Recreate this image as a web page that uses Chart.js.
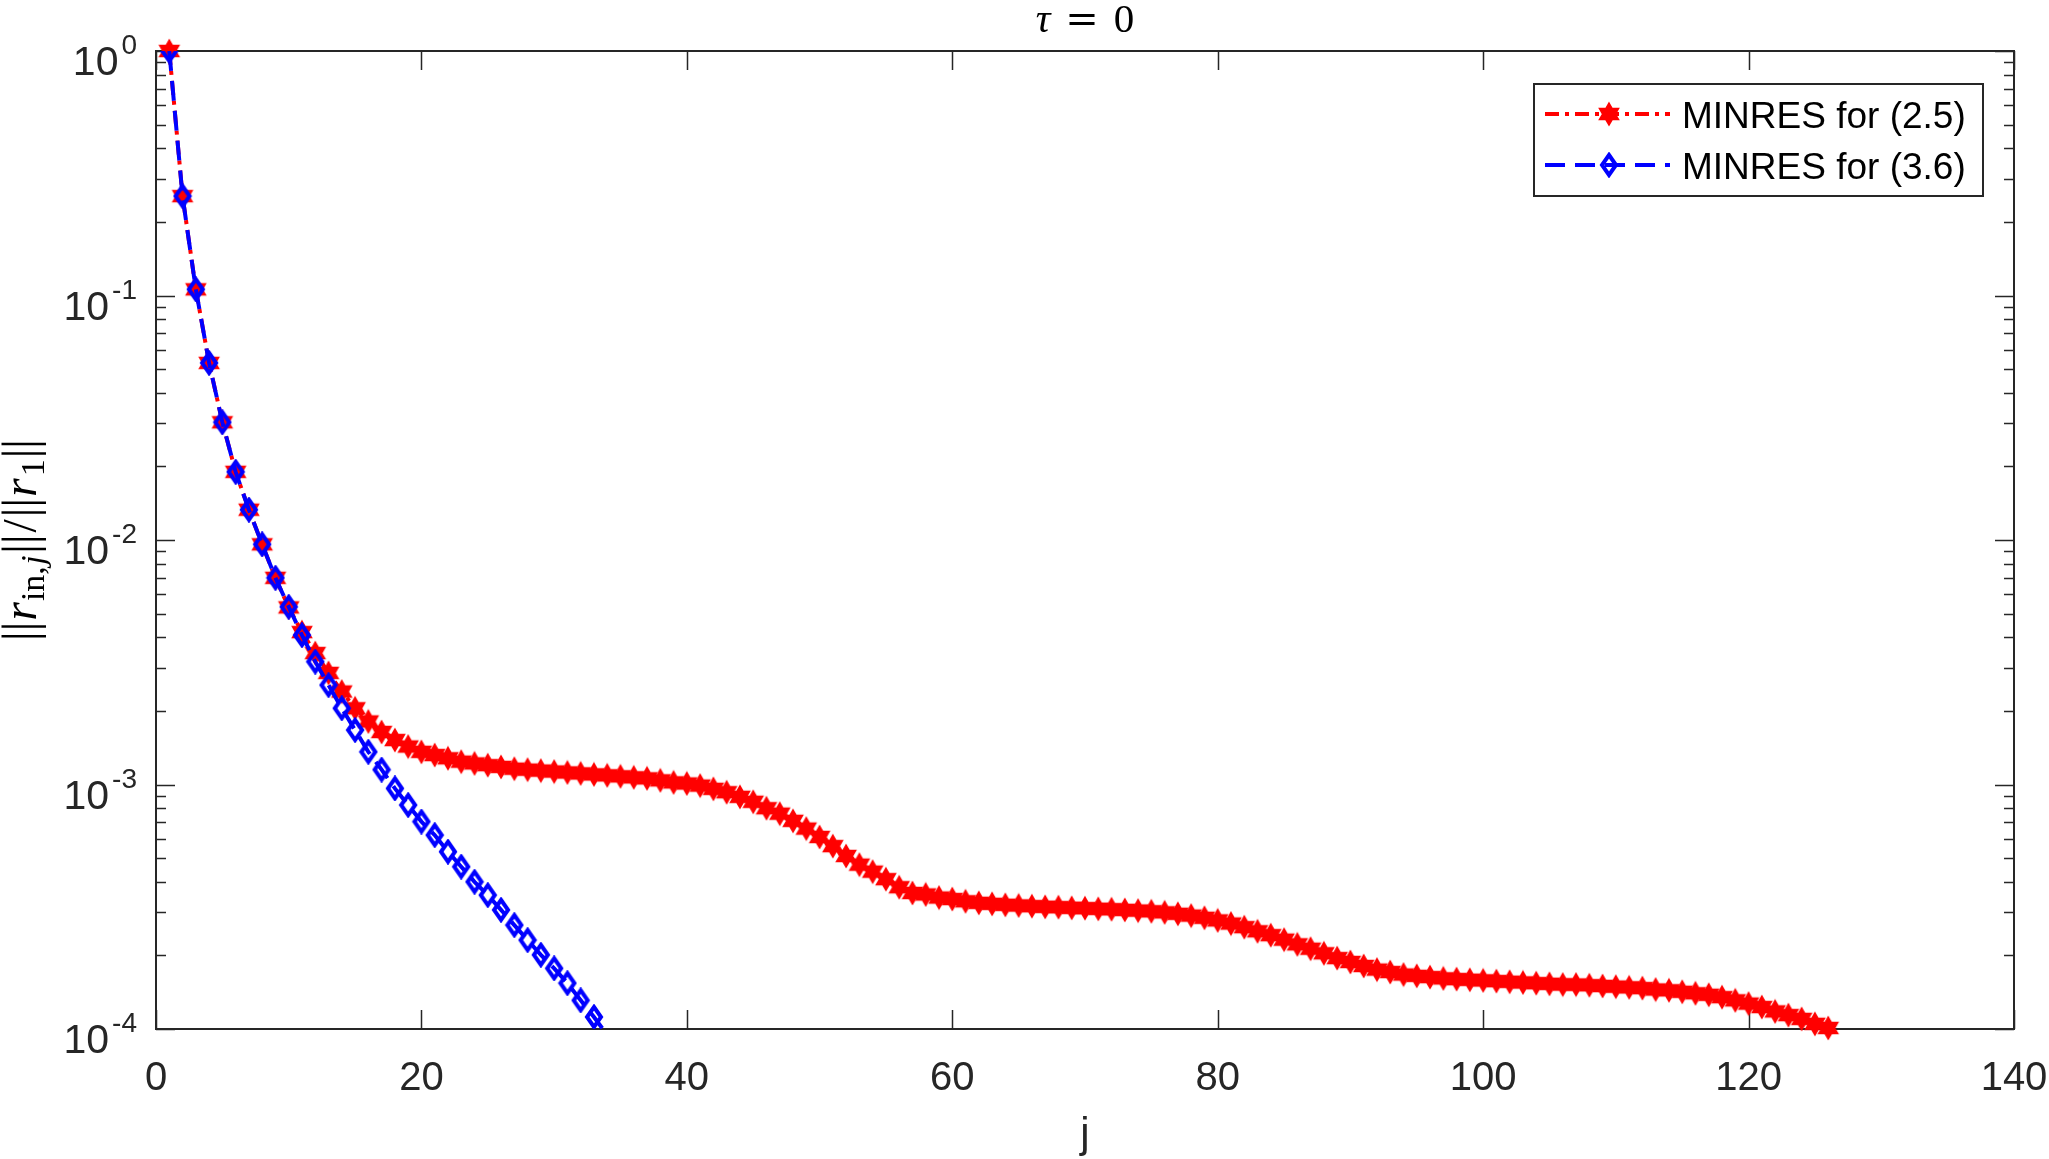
<!DOCTYPE html>
<html>
<head>
<meta charset="utf-8">
<script src="https://cdn.jsdelivr.net/npm/chart.js@4.4.1/dist/chart.umd.min.js"></script>
<style>
html, body { margin: 0; padding: 0; background: #fff; }
#wrap { width: 2049px; height: 1159px; }
</style>
</head>
<body>
<div id="wrap"><canvas id="myChart" width="2049" height="1159"></canvas></div>
<script>
// relative residual ||r_in,j|| / ||r_1||, one value per iteration j = 1, 2, ...
var resA = [
    1.0, 0.255, 0.106, 0.053, 0.0303, 0.019, 0.0133, 0.0096, 0.0070, 0.0053,
    0.0042, 0.00345, 0.00286, 0.0024, 0.00205, 0.00181, 0.00164, 0.00152, 0.00143, 0.00136,
    0.00132, 0.00128, 0.00124, 0.00122, 0.0012, 0.00118, 0.00116, 0.00115, 0.00114, 0.00113,
    0.00112, 0.00111, 0.0011, 0.00109, 0.00108, 0.00107, 0.00106, 0.00104, 0.00102, 0.00101,
    0.00099, 0.00096, 0.00093, 0.00089, 0.00085, 0.0008, 0.00076, 0.00071, 0.00066, 0.00061,
    0.00056, 0.00051, 0.00047, 0.00044, 0.00041, 0.00038, 0.00036, 0.000355, 0.000345, 0.00034,
    0.000333, 0.000328, 0.000325, 0.000322, 0.00032, 0.000318, 0.000316, 0.000315, 0.000313, 0.000312,
    0.00031, 0.000309, 0.000307, 0.000305, 0.000303, 0.0003, 0.000296, 0.000291, 0.000285, 0.000278,
    0.00027, 0.000261, 0.000251, 0.000242, 0.000232, 0.000222, 0.000213, 0.000204, 0.000195, 0.000188,
    0.000181, 0.000175, 0.000171, 0.000167, 0.000165, 0.000163, 0.000161, 0.00016, 0.000159, 0.000158,
    0.000157, 0.000156, 0.000155, 0.000154, 0.000153, 0.000152, 0.000152, 0.000151, 0.00015, 0.000149,
    0.000148, 0.000147, 0.000145, 0.000144, 0.000142, 0.00014, 0.000138, 0.000135, 0.000131, 0.000127,
    0.000123, 0.000118, 0.000114, 0.00011, 0.000105, 0.000101
];
var resB = [
    1.0, 0.255, 0.106, 0.053, 0.0303, 0.019, 0.0133, 0.0096, 0.0070, 0.00533,
    0.00408, 0.00318, 0.00255, 0.00205, 0.00167, 0.00136, 0.00115, 0.000964, 0.000824, 0.000705,
    0.000621, 0.000531, 0.000461, 0.0004, 0.000353, 0.000307, 0.000266, 0.000231, 0.000201, 0.000177,
    0.000154, 0.000131, 0.000112, 0.0000945
];
var seriesNames = ["MINRES for (2.5)", "MINRES for (3.6)"];
var xTicks = [0, 20, 40, 60, 80, 100, 120, 140];
var yExponents = [0, -1, -2, -3, -4];

var FONT_SANS = '"Liberation Sans", Arial, Helvetica, sans-serif';
var FONT_SERIF = '"Liberation Serif", "DejaVu Serif", serif';
var AXIS_COLOR = '#262626';

function toPoints(arr) {
    var pts = [];
    for (var i = 0; i < arr.length; i++) {
        pts.push({ x: i + 1, y: arr[i] });
    }
    return pts;
}

function makeHexagram(R, color) {
    var s = Math.ceil(R * 2 + 4);
    var c = document.createElement('canvas');
    c.width = s; c.height = s;
    var g = c.getContext('2d');
    var cx = s / 2, cy = s / 2, r = R / Math.sqrt(3);
    g.beginPath();
    for (var k = 0; k < 12; k++) {
        var a = -Math.PI / 2 + k * Math.PI / 6;
        var rr = (k % 2 === 0) ? R : r;
        var px = cx + rr * Math.cos(a), py = cy + rr * Math.sin(a);
        if (k === 0) g.moveTo(px, py); else g.lineTo(px, py);
    }
    g.closePath();
    g.fillStyle = color;
    g.fill();
    g.lineWidth = 1.5;
    g.strokeStyle = color;
    g.stroke();
    return c;
}

function makeDiamond(hw, hh, lw, color) {
    var w = Math.ceil(hw * 2 + lw + 2), h = Math.ceil(hh * 2 + lw + 2);
    var c = document.createElement('canvas');
    c.width = w; c.height = h;
    var g = c.getContext('2d');
    var cx = w / 2, cy = h / 2;
    g.beginPath();
    g.moveTo(cx, cy - hh);
    g.lineTo(cx + hw, cy);
    g.lineTo(cx, cy + hh);
    g.lineTo(cx - hw, cy);
    g.closePath();
    g.lineWidth = lw;
    g.strokeStyle = color;
    g.stroke();
    return c;
}

var starImg = makeHexagram(11, '#ff0000');
var diamondImg = makeDiamond(7, 10, 4, '#0000ff');

function drawRuns(ctx, runs, cx, baseY) {
    var total = 0;
    runs.forEach(function (r) {
        ctx.font = r.f;
        r.w = ctx.measureText(r.t).width + (r.gap || 0);
        total += r.w;
    });
    var x = cx - total / 2;
    ctx.textAlign = 'left';
    ctx.textBaseline = 'alphabetic';
    ctx.fillStyle = '#000';
    runs.forEach(function (r) {
        ctx.font = r.f;
        ctx.fillText(r.t, x + (r.gap || 0) / 2, baseY + (r.dy || 0));
        x += r.w;
    });
}

// box, ticks and tick labels, matlab style (ticks inside, on all 4 sides)
var axesPlugin = {
    id: 'matlabAxes',
    beforeDatasetsDraw: function (chart) {
        var ctx = chart.ctx, a = chart.chartArea;
        var xs = chart.scales.x, ys = chart.scales.y;
        ctx.save();
        ctx.strokeStyle = AXIS_COLOR;
        ctx.lineWidth = 1.5;
        ctx.beginPath();
        xTicks.forEach(function (v) {
            var px = Math.round(xs.getPixelForValue(v)) + 0.5;
            ctx.moveTo(px, a.bottom); ctx.lineTo(px, a.bottom - 19);
            ctx.moveTo(px, a.top); ctx.lineTo(px, a.top + 19);
        });
        yExponents.forEach(function (e) {
            var py = Math.round(ys.getPixelForValue(Math.pow(10, e))) + 0.5;
            ctx.moveTo(a.left, py); ctx.lineTo(a.left + 19, py);
            ctx.moveTo(a.right, py); ctx.lineTo(a.right - 19, py);
            if (e > -4) {
                for (var m = 2; m <= 9; m++) {
                    var pm = Math.round(ys.getPixelForValue(m * Math.pow(10, e - 1))) + 0.5;
                    ctx.moveTo(a.left, pm); ctx.lineTo(a.left + 10, pm);
                    ctx.moveTo(a.right, pm); ctx.lineTo(a.right - 10, pm);
                }
            }
        });
        ctx.stroke();
        ctx.lineWidth = 2;
        ctx.strokeRect(a.left, a.top, a.right - a.left, a.bottom - a.top);

        // x tick labels
        ctx.fillStyle = AXIS_COLOR;
        ctx.font = '40px ' + FONT_SANS;
        ctx.textAlign = 'center';
        ctx.textBaseline = 'alphabetic';
        xTicks.forEach(function (v) {
            ctx.fillText(String(v), xs.getPixelForValue(v), a.bottom + 61);
        });

        // y tick labels 10^e
        ctx.textAlign = 'left';
        yExponents.forEach(function (e) {
            var py = ys.getPixelForValue(Math.pow(10, e));
            var sup = String(e);
            ctx.font = '28px ' + FONT_SANS;
            var ws = ctx.measureText(sup).width;
            ctx.font = '41px ' + FONT_SANS;
            var wb = ctx.measureText('10').width;
            var right = a.left - 19;
            ctx.fillText('10', right - ws - 3 - wb, py + 24);
            ctx.font = '28px ' + FONT_SANS;
            ctx.fillText(sup, right - ws, py + 3);
        });

        // title  tau = 0
        var runsT = [
            { t: '\u03C4', f: 'italic 41px ' + FONT_SERIF },
            { t: '=', f: '40px "DejaVu Serif", serif', gap: 30 },
            { t: '0', f: '41px ' + FONT_SERIF }
        ];
        drawRuns(ctx, runsT, (a.left + a.right) / 2, 32);

        // x label
        ctx.fillStyle = AXIS_COLOR;
        ctx.font = '42px ' + FONT_SANS;
        ctx.textAlign = 'center';
        ctx.fillText('j', (a.left + a.right) / 2, 1147);

        // y label, rotated
        var runsY = [
            { t: '||', f: '48px ' + FONT_SERIF },
            { t: 'r', f: 'italic 48px ' + FONT_SERIF, gap: 2 },
            { t: 'in,', f: '34px ' + FONT_SERIF, dy: 8 },
            { t: 'j', f: 'italic 34px ' + FONT_SERIF, dy: 8, gap: 3 },
            { t: '||', f: '48px ' + FONT_SERIF },
            { t: '/', f: '48px ' + FONT_SERIF, gap: 4 },
            { t: '||', f: '48px ' + FONT_SERIF },
            { t: 'r', f: 'italic 48px ' + FONT_SERIF, gap: 2 },
            { t: '1', f: '34px ' + FONT_SERIF, dy: 8, gap: 2 },
            { t: '||', f: '48px ' + FONT_SERIF }
        ];
        ctx.save();
        ctx.translate(36, (a.top + a.bottom) / 2);
        ctx.rotate(-Math.PI / 2);
        drawRuns(ctx, runsY, 0, 0);
        ctx.restore();

        ctx.restore();
    }
};

var legendPlugin = {
    id: 'boxLegend',
    afterDraw: function (chart) {
        var ctx = chart.ctx, a = chart.chartArea;
        var bx = a.right - 480, by = a.top + 33, bw = 449, bh = 112;
        ctx.save();
        ctx.fillStyle = '#fff';
        ctx.fillRect(bx, by, bw, bh);
        ctx.strokeStyle = AXIS_COLOR;
        ctx.lineWidth = 2;
        ctx.strokeRect(bx, by, bw, bh);
        [0, 1].forEach(function (i, row) {
            var ds = chart.data.datasets[i];
            var y = by + 30 + row * 51;
            ctx.strokeStyle = ds.borderColor;
            ctx.lineWidth = ds.borderWidth;
            ctx.setLineDash(ds.borderDash);
            ctx.beginPath();
            ctx.moveTo(bx + 11, y);
            ctx.lineTo(bx + 136, y);
            ctx.stroke();
            ctx.setLineDash([]);
            var img = ds.legendMarker;
            ctx.drawImage(img, bx + 75 - img.width / 2, y - img.height / 2);
            ctx.fillStyle = '#000';
            ctx.font = '37px ' + FONT_SANS;
            ctx.textAlign = 'left';
            ctx.textBaseline = 'alphabetic';
            ctx.fillText(ds.label, bx + 148, y + 14);
        });
        ctx.restore();
    }
};

new Chart(document.getElementById('myChart'), {
    type: 'line',
    data: {
        datasets: [{
            label: seriesNames[0],
            data: toPoints(resA),
            borderColor: '#ff0000',
            backgroundColor: '#ff0000',
            borderWidth: 4,
            borderDash: [14, 6, 4, 6],
            pointStyle: starImg,
            legendMarker: starImg,
            tension: 0,
            clip: false,
            order: 1
        }, {
            label: seriesNames[1],
            data: toPoints(resB),
            borderColor: '#0000ff',
            backgroundColor: '#0000ff',
            borderWidth: 4,
            borderDash: [20, 10],
            pointStyle: diamondImg,
            legendMarker: diamondImg,
            pointRadius: function (c) { return (c.raw && c.raw.y < 1e-4) ? 0 : 3; },
            tension: 0,
            order: 0
        }]
    },
    options: {
        responsive: false,
        animation: false,
        devicePixelRatio: 1,
        layout: { padding: { left: 0, top: 51, right: 35, bottom: 0 } },
        plugins: { legend: { display: false }, tooltip: { enabled: false }, title: { display: false } },
        scales: {
            x: {
                type: 'linear', min: 0, max: 140,
                ticks: { display: false, stepSize: 20 },
                grid: { display: false, drawTicks: false },
                border: { display: false },
                afterFit: function (s) { s.height = 130; }
            },
            y: {
                type: 'logarithmic', min: 1e-4, max: 1,
                ticks: { display: false },
                grid: { display: false, drawTicks: false },
                border: { display: false },
                afterFit: function (s) { s.width = 156; }
            }
        }
    },
    plugins: [axesPlugin, legendPlugin]
});
</script>
</body>
</html>
